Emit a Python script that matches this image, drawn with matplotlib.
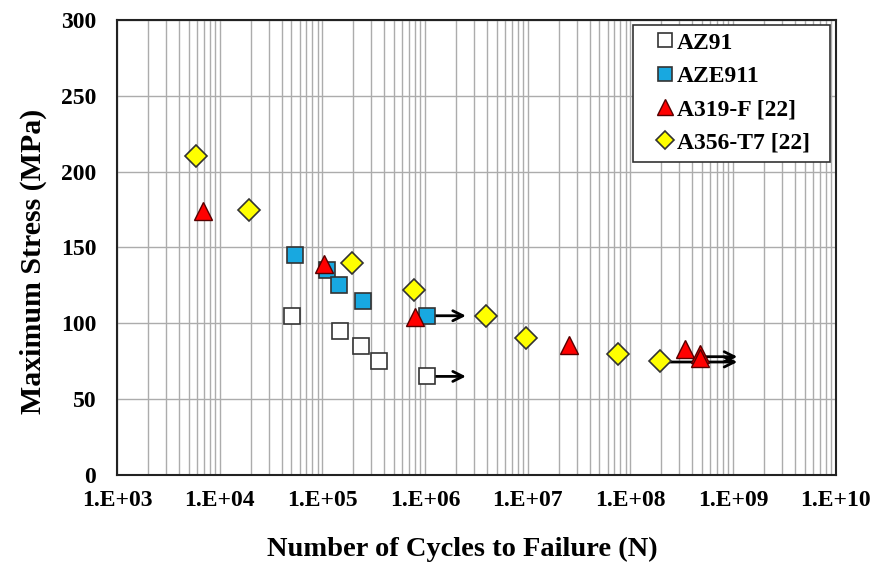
import numpy as np
import matplotlib
matplotlib.use('Agg')
import matplotlib.pyplot as plt
from matplotlib.patches import Rectangle
from matplotlib.ticker import LogLocator, FuncFormatter, NullFormatter

plt.rcParams['font.family'] = ['Liberation Serif', 'DejaVu Serif']
plt.rcParams['font.weight'] = 'bold'

# fatigue data: cycles to failure and maximum stress (MPa)
az91_n = [5.1e4, 1.5e5, 2.4e5, 3.6e5, 1.05e6]
az91_s = [105, 95, 85, 75, 65]
aze911_n = [5.4e4, 1.1e5, 1.46e5, 2.5e5, 1.05e6]
aze911_s = [145, 135, 125, 115, 105]
a319_n = [6.9e3, 1.03e5, 8.0e5, 2.5e7, 3.4e8, 4.8e8, 4.8e8]
a319_s = [174, 139, 104, 86, 83, 80, 77]
a356_n = [5.9e3, 1.95e4, 1.95e5, 7.8e5, 3.9e6, 9.6e6, 7.6e7, 1.95e8]
a356_s = [210, 175, 140, 122, 105, 90, 80, 75]

# run-outs (no failure): start cycles, end cycles, stress
runout_start = [1.2e6, 1.2e6, 2.1e8, 5.4e8]
runout_end = [2.5e6, 2.5e6, 1.1e9, 1.1e9]
runout_s = [105, 65, 74.5, 78]

x_ticks = [1e3, 1e4, 1e5, 1e6, 1e7, 1e8, 1e9, 1e10]
y_ticks = [0, 50, 100, 150, 200, 250, 300]

fig = plt.figure(figsize=(8.76, 5.63), dpi=100)
ax = fig.add_axes([0.1336, 0.1563, 0.8204, 0.8082])

for x0, x1, s in zip(runout_start, runout_end, runout_s):
    ax.annotate('', xy=(x1, s), xytext=(x0, s),
                arrowprops=dict(arrowstyle='->', color='black', lw=2.0,
                                mutation_scale=18, shrinkA=0, shrinkB=0),
                zorder=2)

ax.plot(az91_n, az91_s, 's', ms=12, mfc='white', mec='#333333', mew=1.2,
        label='AZ91', zorder=3)
ax.plot(aze911_n, aze911_s, 's', ms=12, mfc='#18a8e0', mec='#333333', mew=1.2,
        label='AZE911', zorder=3)
ax.plot(a319_n, a319_s, '^', ms=13, mfc='#ff0000', mec='#550000', mew=1.0,
        label='A319-F [22]', zorder=4)
ax.plot(a356_n, a356_s, 'D', ms=11, mfc='#ffff00', mec='#333333', mew=1.2,
        label='A356-T7 [22]', zorder=3)

ax.set_xscale('log')
ax.set_xlim(x_ticks[0], x_ticks[-1])
ax.set_ylim(y_ticks[0], y_ticks[-1])
ax.set_yticks(y_ticks)
ax.set_xticks(x_ticks)
ax.xaxis.set_minor_locator(LogLocator(base=10, subs=np.arange(2, 10), numticks=100))
ax.xaxis.set_major_formatter(FuncFormatter(lambda v, p: '1.E+%02d' % int(round(np.log10(v)))))
ax.xaxis.set_minor_formatter(NullFormatter())

ax.grid(True, which='both', axis='x', color='#acacac', lw=1.0)
ax.grid(True, which='major', axis='y', color='#acacac', lw=1.0)
ax.set_axisbelow(True)
ax.tick_params(which='both', length=0, labelsize=17)
ax.tick_params(axis='x', pad=11)
ax.tick_params(axis='y', pad=15)
for sp in ax.spines.values():
    sp.set_linewidth(1.5)
    sp.set_color('#222222')

ax.set_xlabel('Number of Cycles to Failure (N)', fontsize=20.5, fontweight='bold')
ax.xaxis.set_label_coords(0.48, -0.136)
ax.set_ylabel('Maximum Stress (MPa)', fontsize=21.5, fontweight='bold')
ax.yaxis.set_label_coords(-0.097, 0.47)

# legend box drawn separately so its padding can differ per side
ax.add_patch(Rectangle((0.7177, 0.9890), 0.2740, -0.3011, transform=ax.transAxes,
                       facecolor='white', edgecolor='#333333', lw=1.2, zorder=5))
leg = ax.legend(loc='upper right', bbox_to_anchor=(0.9638, 0.9736), fontsize=17,
                frameon=False, handlelength=0.7, handletextpad=0.15, borderpad=0,
                borderaxespad=0, labelspacing=0.5, markerscale=0.85)
leg.set_zorder(6)

fig.savefig('out.png', dpi=100)
